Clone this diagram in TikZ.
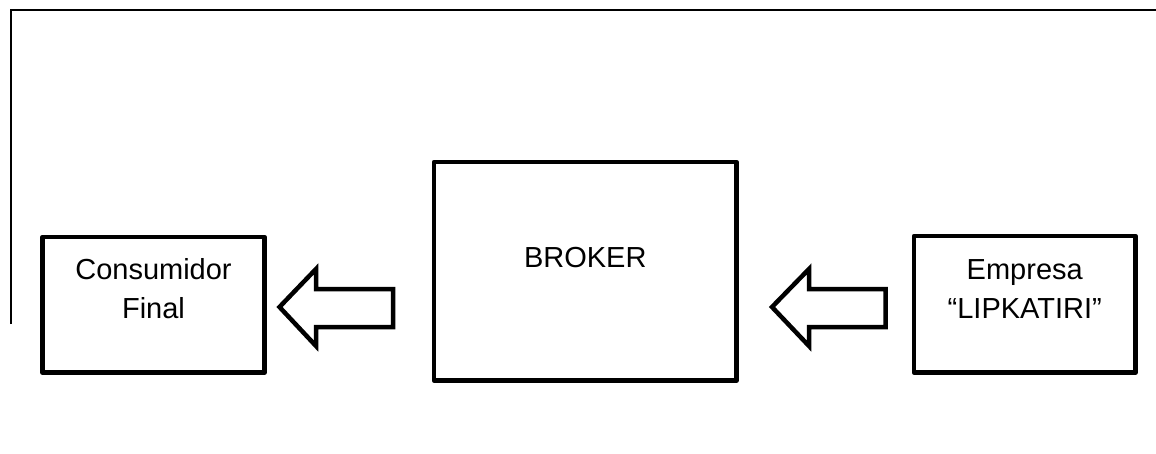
\documentclass[tikz,border=0pt]{standalone}
\usepackage{fontspec}
\setmainfont{Liberation Sans}
\begin{document}
\begin{tikzpicture}[x=1pt,y=-1pt,
  box/.style={draw, line width=4.5pt, line join=round, rectangle, inner sep=0pt},
  lbl/.style={anchor=base, inner sep=0pt, font=\fontsize{29}{34}\selectfont},
  blockarrow/.style={draw, line width=4.5pt, line join=miter},
  frameline/.style={draw, line width=2pt}]
\useasboundingbox (0,0) rectangle (1156,453);
% frame lines
\draw[frameline] (11,324) -- (11,10) -- (1156,10);
% boxes
\node[box, minimum width=222pt, minimum height=135.5pt] (cons) at (153.5,304.75) {};
\node[box, minimum width=302.5pt, minimum height=218.5pt] (broker) at (585.25,271.25) {};
\node[box, minimum width=221.5pt, minimum height=136.5pt] (emp) at (1024.75,304.25) {};
% labels
\node[lbl] (cons1) at (153.5,279) {Consumidor};
\node[lbl] (cons2) at (153.5,318) {Final};
\node[lbl] (brk) at (585.25,267) {BROKER};
\node[lbl] (emp1) at (1024.75,279) {Empresa};
\node[lbl] (emp2) at (1024.75,318) {“LIPKATIRI”};
% block arrows
\draw[blockarrow] (279.5,307) -- (316,269) -- (316,289) -- (393,289) -- (393,327) -- (316,327) -- (316,346) -- cycle;
\draw[blockarrow] (772,307) -- (809,269) -- (809,289) -- (885.5,289) -- (885.5,327) -- (809,327) -- (809,346) -- cycle;
\end{tikzpicture}
\end{document}
